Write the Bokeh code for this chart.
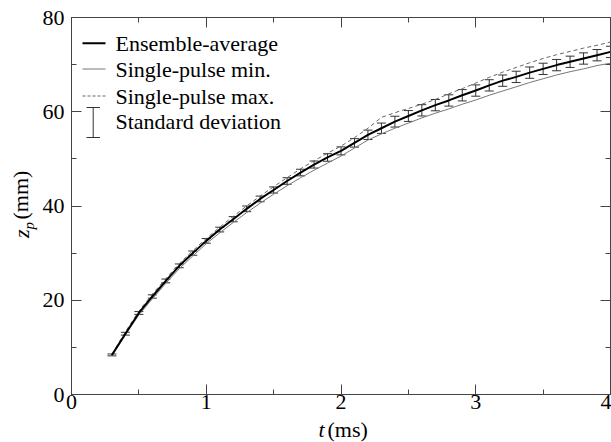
import numpy as np
from bokeh.plotting import figure
from bokeh.models import (Range1d, LinearAxis, SingleIntervalTicker, ColumnDataSource,
                          Whisker, TeeHead, Label, BoxAnnotation)
from bokeh.embed import file_html
from bokeh.resources import INLINE

# ---- data ----
t_ms = [0.3, 0.4, 0.5, 0.6, 0.7, 0.8, 0.9, 1.0, 1.1, 1.2, 1.3, 1.4, 1.5, 1.6, 1.7, 1.8, 1.9,
        2.0, 2.1, 2.2, 2.3, 2.4, 2.5, 2.6, 2.7, 2.8, 2.9, 3.0, 3.1, 3.2, 3.3, 3.4, 3.5, 3.6,
        3.7, 3.8, 3.9, 4.0]
z_mean = [8.4, 12.9, 17.3, 20.8, 24.1, 27.3, 30.0, 32.6, 35.0, 37.2, 39.4, 41.5, 43.4, 45.3,
          47.1, 48.8, 50.3, 51.7, 53.4, 55.1, 56.5, 57.9, 59.1, 60.3, 61.4, 62.4, 63.5, 64.5,
          65.6, 66.6, 67.4, 68.3, 69.1, 69.9, 70.6, 71.3, 72.0, 72.7]
z_max = [8.6, 13.3, 17.7, 21.3, 24.6, 27.8, 30.5, 33.1, 35.5, 37.8, 40.0, 42.1, 44.1, 46.0,
         47.9, 49.6, 51.2, 52.7, 54.5, 56.5, 58.8, 59.8, 60.7, 61.6, 62.6, 63.8, 64.9, 66.1,
         67.3, 68.4, 69.4, 70.4, 71.3, 72.1, 72.8, 73.5, 74.1, 74.8]
z_min = [8.2, 12.6, 16.9, 20.3, 23.6, 26.7, 29.4, 32.0, 34.3, 36.5, 38.6, 40.6, 42.5, 44.3,
         46.0, 47.6, 49.1, 50.6, 52.3, 54.0, 55.3, 56.5, 57.6, 58.7, 59.7, 60.6, 61.6, 62.5,
         63.5, 64.4, 65.3, 66.2, 67.0, 67.8, 68.5, 69.1, 69.8, 70.3]
z_std = [0.2, 0.3, 0.3, 0.35, 0.4, 0.4, 0.45, 0.5, 0.5, 0.55, 0.6, 0.6, 0.65, 0.7, 0.7, 0.75,
         0.8, 0.85, 0.9, 1.0, 1.1, 1.15, 1.15, 1.2, 1.2, 1.2, 1.2, 1.2, 1.2, 1.2, 1.2, 1.2,
         1.2, 1.2, 1.2, 1.2, 1.2, 1.2]
x_tick_step = 1
y_tick_step = 20
X_MIN, X_MAX = 0, 4
Y_MIN, Y_MAX = 0, 80

FONT = "Liberation Serif"
FS = "22px"
AXC = "#444444"

src = ColumnDataSource(dict(
    t=t_ms, mean=z_mean, zmin=z_min, zmax=z_max,
    lower=[m - s for m, s in zip(z_mean, z_std)],
    upper=[m + s for m, s in zip(z_mean, z_std)],
))

W, H = 611, 442
FL, FR, FT, FB = 71, 610, 16, 394   # wanted frame edges (page px)

p = figure(width=W, height=H, output_backend="svg", toolbar_location=None,
           x_range=Range1d(X_MIN, X_MAX), y_range=Range1d(Y_MIN, Y_MAX),
           min_border_left=FL, min_border_right=W - FR, min_border_top=FT,
           min_border_bottom=H - FB,
           x_axis_location=None, y_axis_location=None)
p.xgrid.visible = False
p.ygrid.visible = False
p.outline_line_color = AXC
p.background_fill_color = "white"
p.border_fill_color = "white"


def style_axis(ax, show_labels, standoff=4):
    ax.major_tick_in = 10
    ax.major_tick_out = 0
    ax.minor_tick_in = 5
    ax.minor_tick_out = 0
    ax.axis_line_color = AXC
    ax.major_tick_line_color = AXC
    ax.minor_tick_line_color = AXC
    if show_labels:
        ax.major_label_text_font = FONT
        ax.major_label_text_font_size = FS
        ax.major_label_text_color = "black"
        ax.major_label_standoff = standoff
    else:
        ax.major_label_text_font_size = "0.1px"
        ax.major_label_text_color = None
        ax.major_label_standoff = 0


xb = LinearAxis(ticker=SingleIntervalTicker(interval=x_tick_step, num_minor_ticks=2))
style_axis(xb, True, standoff=0)
p.add_layout(xb, "below")

xa = LinearAxis(ticker=SingleIntervalTicker(interval=x_tick_step, num_minor_ticks=2))
style_axis(xa, False)
p.add_layout(xa, "above")

yl = LinearAxis(ticker=SingleIntervalTicker(interval=y_tick_step, num_minor_ticks=2))
style_axis(yl, True, standoff=7)
p.add_layout(yl, "left")

yr = LinearAxis(ticker=SingleIntervalTicker(interval=y_tick_step, num_minor_ticks=2))
style_axis(yr, False)
p.add_layout(yr, "right")

# ---- series ----
p.line("t", "zmin", source=src, line_color="#777777", line_width=1)
p.line("t", "zmax", source=src, line_color="#666666", line_width=1, line_dash="4 3")
wh = Whisker(source=src, base="t", lower="lower", upper="upper", dimension="height",
             line_color="#333333", line_width=1,
             lower_head=TeeHead(size=9, line_color="#333333", line_width=1),
             upper_head=TeeHead(size=9, line_color="#333333", line_width=1))
p.add_layout(wh)
p.line("t", "mean", source=src, line_color="black", line_width=2)


# ---- helpers: page px -> frame screen units / data units (for annotations only) ----
def sx(px):
    return px - FL


def sy(py):
    return FB - py


def xd(px):
    return X_MIN + (px - FL) / (FR - FL) * (X_MAX - X_MIN)


def yd(py):
    return Y_MIN + (FB - py) / (FB - FT) * (Y_MAX - Y_MIN)


def box(l, r, t, b, color):
    p.add_layout(BoxAnnotation(left=sx(l), right=sx(r), top=sy(t), bottom=sy(b),
                               left_units="screen", right_units="screen",
                               top_units="screen", bottom_units="screen",
                               fill_color=color, fill_alpha=1, line_color=None))


def scr_label(px, py, text):
    return Label(x=sx(px), y=sy(py), x_units="screen", y_units="screen", text=text,
                 text_font=FONT, text_font_size=FS, text_align="left",
                 text_baseline="middle", text_color="black")


def data_label(px, py, text, align="left", style="normal", size=FS, angle=0.0):
    return Label(x=xd(px), y=yd(py), x_units="data", y_units="data", text=text,
                 text_font=FONT, text_font_size=size, text_font_style=style,
                 text_align=align, text_baseline="middle", text_color="black",
                 angle=angle)


# ---- legend ----
box(82, 105, 41.7, 43.7, "black")
p.add_layout(scr_label(115, 42.5, "Ensemble-average"))
box(82, 105, 68.0, 69.0, "#777777")
p.add_layout(scr_label(115, 68.5, "Single-pulse min."))
for d0 in (82, 87, 92, 97, 102):
    box(d0, min(d0 + 3, 105), 95.0, 96.0, "#666666")
p.add_layout(scr_label(115, 95.5, "Single-pulse max."))
box(92.2, 93.2, 107, 137, "#333333")
box(86, 99.5, 106.5, 107.5, "#333333")
box(86, 99.5, 136.5, 137.5, "#333333")
p.add_layout(scr_label(115, 121, "Standard deviation"))

# ---- axis titles (in side panels so they are not clipped to the frame) ----
p.add_layout(data_label(327, 429, "(ms)"), "below")
p.add_layout(data_label(20, 218.5, "(mm)", angle=np.pi / 2), "left")
p.add_layout(data_label(324, 429, "t", align="right", style="italic"), "left")
p.add_layout(data_label(21, 237, "z", style="italic", angle=np.pi / 2), "above")
p.add_layout(data_label(28.5, 228.5, "p", style="italic", size="15px",
                        angle=np.pi / 2), "above")

open("out.html", "w").write(file_html(p, INLINE))
